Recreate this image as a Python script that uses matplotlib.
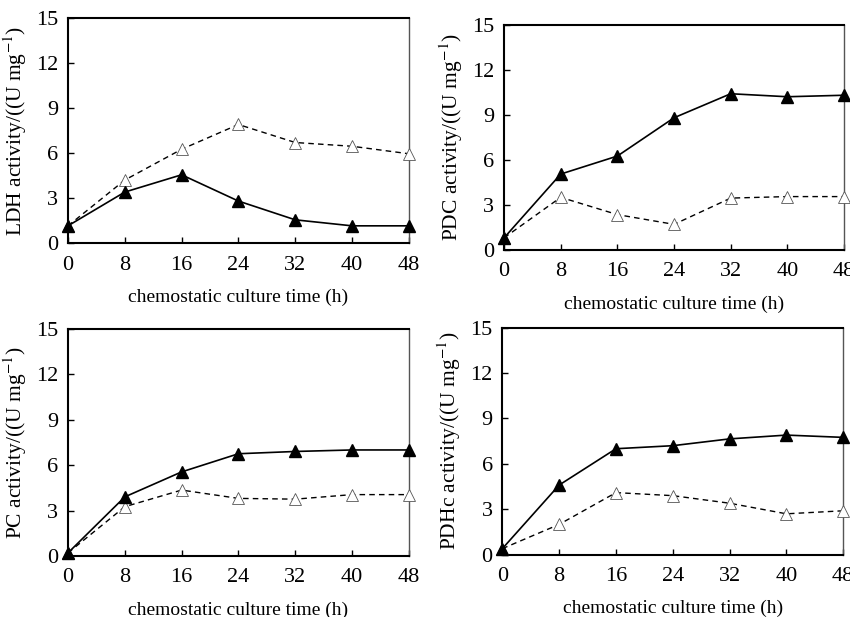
import matplotlib.pyplot as plt

plt.rcParams['font.family'] = ['Liberation Serif', 'DejaVu Serif']
plt.rcParams['mathtext.fontset'] = 'stix'

time_h = [0, 8, 16, 24, 32, 40, 48]

ldh_solid = [1.15, 3.4, 4.55, 2.8, 1.55, 1.15, 1.15]
ldh_dash = [1.15, 4.2, 6.25, 7.9, 6.7, 6.45, 5.95]

pdc_solid = [0.8, 5.05, 6.25, 8.8, 10.4, 10.2, 10.3]
pdc_dash = [0.8, 3.5, 2.35, 1.7, 3.45, 3.55, 3.55]

pc_solid = [0.2, 3.9, 5.55, 6.75, 6.9, 7.0, 7.0]
pc_dash = [0.2, 3.25, 4.35, 3.8, 3.75, 4.05, 4.05]

pdhc_solid = [0.4, 4.6, 7.0, 7.2, 7.65, 7.9, 7.75]
pdhc_dash = [0.4, 2.0, 4.1, 3.9, 3.4, 2.7, 2.9]

panels = [
    ('LDH', ldh_solid, ldh_dash, [0.080, 0.606, 0.401, 0.365]),
    ('PDC', pdc_solid, pdc_dash, [0.593, 0.595, 0.400, 0.365]),
    ('PC', pc_solid, pc_dash, [0.080, 0.099, 0.401, 0.368]),
    ('PDHc', pdhc_solid, pdhc_dash, [0.591, 0.101, 0.401, 0.368]),
]

fig = plt.figure(figsize=(8.5, 6.17), dpi=100)

for name, solid, dash, pos in panels:
    ax = fig.add_axes(pos)
    ax.plot(time_h, dash, color='black', lw=1.0, ls=(0, (4, 3)),
            marker='^', ms=8, mfc='white', mec='#555555', mew=0.6, clip_on=False, zorder=3)
    ax.plot(time_h, solid, color='black', lw=1.2, ls='-',
            marker='^', ms=9, mfc='black', mec='black', clip_on=False, zorder=4)
    ax.set_xlim(0, 48)
    ax.set_ylim(0, 15)
    ax.set_xticks(time_h)
    ax.set_yticks([0, 3, 6, 9, 12, 15])
    ax.tick_params(direction='in', length=4, width=1, labelsize=16)
    ax.tick_params(axis='x', pad=9)
    ax.tick_params(axis='y', pad=7)
    for side in ['left', 'bottom', 'top']:
        ax.spines[side].set_linewidth(1.5)
    ax.spines['right'].set_linewidth(1.0)
    ax.spines['right'].set_color('#555555')
    ax.set_xlabel('chemostatic culture time (h)', fontsize=14, labelpad=10)
    ax.set_ylabel(name + ' activity/((U mg$^{-1}$)', fontsize=15.5, labelpad=5)

fig.savefig('out.png', dpi=100)
